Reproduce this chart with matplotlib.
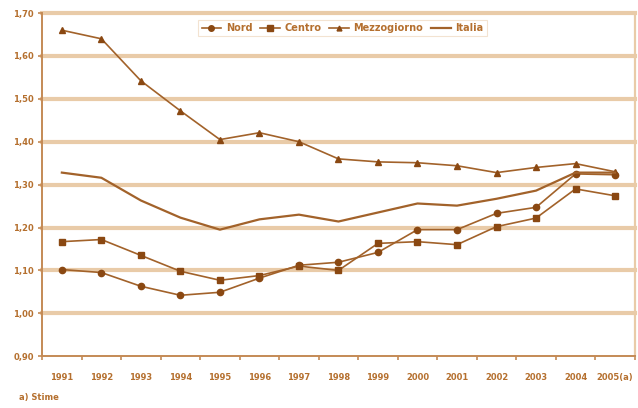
import numpy as np
import matplotlib.pyplot as plt
from matplotlib.lines import Line2D

years = ['1991', '1992', '1993', '1994', '1995', '1996', '1997', '1998',
         '1999', '2000', '2001', '2002', '2003', '2004', '2005(a)']

nord = [1.102, 1.095, 1.063, 1.042, 1.049, 1.082, 1.112, 1.119,
        1.142, 1.195, 1.195, 1.233, 1.247, 1.325, 1.323]
centro = [1.167, 1.172, 1.135, 1.098, 1.077, 1.088, 1.110, 1.100,
          1.163, 1.167, 1.160, 1.202, 1.222, 1.290, 1.274]
mezzogiorno = [1.660, 1.640, 1.542, 1.472, 1.405, 1.421, 1.400, 1.360,
               1.353, 1.351, 1.344, 1.328, 1.340, 1.349, 1.330]
italia = [1.328, 1.316, 1.263, 1.223, 1.195, 1.219, 1.230, 1.214,
          1.235, 1.256, 1.251, 1.267, 1.286, 1.328, 1.328]

yticks = [0.90, 1.00, 1.10, 1.20, 1.30, 1.40, 1.50, 1.60, 1.70]

line_col = '#a2622a'
mark_col = '#8a4812'
grid_col = '#e9cba8'
spine_col = '#c48a55'
text_col = '#b5702f'

fig = plt.figure(figsize=(6.38, 4.08), dpi=100)
ax = fig.add_axes([0.066, 0.127, 0.929, 0.841])

x = np.arange(len(years))
ax.plot(x, nord, '-', color=line_col, lw=1.2, marker='o', ms=4.5,
        mfc=mark_col, mec=mark_col, label='Nord', zorder=3)
ax.plot(x, centro, '-', color=line_col, lw=1.2, marker='s', ms=5,
        mfc=mark_col, mec=mark_col, label='Centro', zorder=3)
ax.plot(x, mezzogiorno, '-', color=line_col, lw=1.2, marker='^', ms=4,
        mfc=mark_col, mec=mark_col, label='Mezzogiorno', zorder=3)
ax.plot(x, italia, '-', color=line_col, lw=1.6, label='Italia', zorder=3)

ax.set_xlim(-0.5, len(years) - 0.5)
ax.set_ylim(0.9, 1.7)
ax.set_yticks(yticks)
ax.set_yticklabels([('%.2f' % v).replace('.', ',') for v in yticks])
ax.set_xticks(x)
ax.set_xticklabels(years)
ax.set_xticks(np.arange(-0.5, len(years)), minor=True)

# thick horizontal bands at each tick level
for v in yticks[1:]:
    ax.axhline(v, color=grid_col, lw=3.0, zorder=1, clip_on=False)

ax.spines['top'].set_visible(False)
ax.spines['right'].set_color(grid_col)
ax.spines['right'].set_linewidth(1.6)
ax.spines['left'].set_color(spine_col)
ax.spines['bottom'].set_color(spine_col)
ax.spines['left'].set_linewidth(1.4)
ax.spines['bottom'].set_linewidth(1.4)

ax.tick_params(axis='x', which='major', length=0, pad=12,
               labelsize=6, labelcolor=text_col)
ax.tick_params(axis='x', which='minor', length=3, color=spine_col, width=1.2)
ax.tick_params(axis='y', length=3, color=spine_col, width=1.2, pad=3,
               labelsize=6, labelcolor=text_col)
for lab in ax.get_xticklabels() + ax.get_yticklabels():
    lab.set_fontweight('bold')

handles = [
    Line2D([], [], color=line_col, lw=1.2, marker='o', ms=4, mfc=mark_col, mec=mark_col),
    Line2D([], [], color=line_col, lw=1.2, marker='s', ms=4.5, mfc=mark_col, mec=mark_col),
    Line2D([], [], color=line_col, lw=1.2, marker='^', ms=3.5, mfc=mark_col, mec=mark_col),
    Line2D([], [], color=line_col, lw=1.6),
]
leg = ax.legend(handles, ['Nord', 'Centro', 'Mezzogiorno', 'Italia'],
                loc='upper left', bbox_to_anchor=(0.255, 0.995), ncol=4,
                frameon=True, fancybox=False,
                handlelength=2.0, handletextpad=0.5, columnspacing=0.8,
                borderpad=0.35, prop={'weight': 'bold', 'size': 7})
leg.get_frame().set_edgecolor('#f0dcc6')
leg.get_frame().set_linewidth(0.8)
for t in leg.get_texts():
    t.set_color(text_col)

fig.text(0.03, 0.02, 'a) Stime', fontsize=6, color=text_col, fontweight='bold')

fig.savefig('out.png', dpi=100)
